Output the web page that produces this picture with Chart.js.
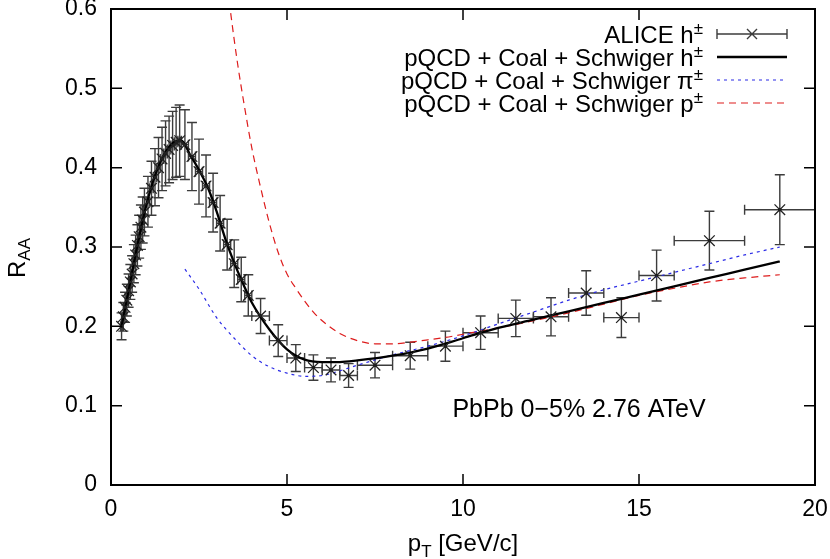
<!DOCTYPE html>
<html><head><meta charset="utf-8">
<script src="https://cdn.jsdelivr.net/npm/chart.js@4/dist/chart.umd.min.js"></script>
<style>html,body{margin:0;padding:0;background:#fff}#wrap{width:830px;height:559px}</style>
</head><body><div id="wrap"><canvas id="c" width="830" height="559"></canvas></div>
<script>
// ---------- data ----------
const aliceX = [0.3,0.35,0.4,0.45,0.5,0.55,0.6,0.65,0.7,0.75,0.8,0.85,0.9,0.95,
  1.05,1.15,1.25,1.35,1.45,1.55,1.65,1.75,1.85,1.95,
  2.1,2.3,2.5,2.7,2.9,3.1,3.3,3.5,3.7,3.9,
  4.25,4.75,5.25,5.75,6.25,6.75,
  7.5,8.5,9.5,10.5,11.5,12.5,13.5,14.5,15.5,17,19];
const aliceY = [0.200,0.212,0.224,0.233,0.245,0.256,0.266,0.279,0.290,0.302,0.313,0.325,0.334,0.344,
  0.357,0.374,0.388,0.400,0.411,0.418,0.423,0.428,0.432,0.434,
  0.429,0.414,0.395,0.377,0.356,0.330,0.303,0.279,0.259,0.239,
  0.213,0.182,0.160,0.148,0.145,0.138,
  0.151,0.163,0.175,0.192,0.210,0.212,0.242,0.211,0.264,0.308,0.347];
const aliceErrY = [0.017,0.018,0.019,0.020,0.021,0.022,0.023,0.024,0.025,0.026,0.027,0.028,0.029,0.030,
  0.032,0.034,0.036,0.038,0.040,0.041,0.042,0.043,0.044,0.045,
  0.044,0.043,0.041,0.039,0.037,0.035,0.032,0.030,0.028,0.026,
  0.022,0.020,0.017,0.016,0.015,0.015,
  0.016,0.017,0.019,0.021,0.023,0.024,0.028,0.025,0.032,0.037,0.044];
const aliceErrX = [0.025,0.025,0.025,0.025,0.025,0.025,0.025,0.025,0.025,0.025,0.025,0.025,0.025,0.025,
  0.05,0.05,0.05,0.05,0.05,0.05,0.05,0.05,0.05,0.05,
  0.1,0.1,0.1,0.1,0.1,0.1,0.1,0.1,0.1,0.1,
  0.25,0.25,0.25,0.25,0.25,0.25,
  0.5,0.5,0.5,0.5,0.5,0.5,0.5,0.5,0.5,1,1];

const hadronX = [0.3,0.5,0.75,1.0,1.25,1.5,1.75,2.0,2.25,2.5,2.75,3.0,3.25,3.5,3.75,4.0,4.5,5.0,5.5,6.0,6.5,7.0,8,9,10,11,12,13,14,15,16,17,18,19];
const hadronY = [0.200,0.245,0.302,0.352,0.390,0.416,0.431,0.434,0.416,0.397,0.375,0.345,0.310,0.280,0.254,0.230,0.196,0.171,0.158,0.155,0.155,0.157,0.163,0.172,0.185,0.198,0.2085,0.219,0.2295,0.240,0.2505,0.261,0.2715,0.282];

const pionX = [2.1,2.5,3.0,3.5,4.0,4.5,5.0,5.5,6.0,6.5,7.0,8,9,10,11,12,13,14,15,16,17,18,19];
const pionY = [0.272,0.247,0.211,0.185,0.163,0.149,0.141,0.137,0.138,0.144,0.151,0.164,0.175,0.188,0.203,0.218,0.233,0.246,0.257,0.268,0.279,0.290,0.300];

const protonX = [3.2,3.4,3.6,3.8,4.0,4.25,4.5,4.75,5.0,5.25,5.5,5.75,6.0,6.5,7.0,7.5,8,8.5,9,9.5,10,11,12,13,14,15,16,17,18,19];
const protonY = [0.67,0.595,0.53,0.475,0.425,0.375,0.33,0.293,0.266,0.248,0.232,0.218,0.207,0.191,0.182,0.178,0.178,0.180,0.183,0.186,0.190,0.198,0.207,0.217,0.228,0.239,0.248,0.256,0.261,0.265];

const xTickValues = [0,5,10,15,20];
const yTickValues = [0,0.1,0.2,0.3,0.4,0.5,0.6];
const legendLabels = [
  ["ALICE h", "\u00B1"],
  ["pQCD + Coal + Schwiger h", "\u00B1"],
  ["pQCD + Coal + Schwiger \u03C0", "\u00B1"],
  ["pQCD + Coal + Schwiger p", "\u00B1"]
];
const annotationText = "PbPb 0\u22125% 2.76 ATeV";
const xTitle = ["p", "T", " [GeV/c]"];
const yTitle = ["R", "AA"];

// ---------- styling ----------
const FONT = "'Liberation Sans', Arial, Helvetica, sans-serif";
const FS = 24, SUBFS = 17, TICKFS = 23, ANNFS = 25;
const ERR_COLOR = '#3c3c3c';
const BLUE = '#2a2ae6', RED = '#dd1c1c';

const zip = (xs, ys) => xs.map((x, i) => ({x, y: ys[i]}));

function richWidth(ctx, parts) {
  let w = 0;
  parts.forEach((p, i) => { ctx.font = (i % 2 ? SUBFS : FS) + 'px ' + FONT; w += ctx.measureText(p).width; });
  return w;
}

const framePlugin = {
  id: 'frame',
  beforeDatasetsDraw(chart) {
    const ctx = chart.ctx, xs = chart.scales.x, ys = chart.scales.y;
    ctx.save();
    ctx.strokeStyle = ERR_COLOR; ctx.lineWidth = 1.4;
    const ca = chart.chartArea;
    ctx.beginPath(); ctx.rect(ca.left, ca.top, ca.right - ca.left, ca.bottom - ca.top); ctx.clip();
    const cap = 5;
    aliceX.forEach((x, i) => {
      const px = xs.getPixelForValue(x), py = ys.getPixelForValue(aliceY[i]);
      const y1 = ys.getPixelForValue(aliceY[i] - aliceErrY[i]), y2 = ys.getPixelForValue(aliceY[i] + aliceErrY[i]);
      const x1 = xs.getPixelForValue(x - aliceErrX[i]), x2 = xs.getPixelForValue(x + aliceErrX[i]);
      ctx.beginPath();
      ctx.moveTo(px, y1); ctx.lineTo(px, y2);
      ctx.moveTo(px - cap, y1); ctx.lineTo(px + cap, y1);
      ctx.moveTo(px - cap, y2); ctx.lineTo(px + cap, y2);
      ctx.moveTo(x1, py); ctx.lineTo(x2, py);
      ctx.moveTo(x1, py - cap); ctx.lineTo(x1, py + cap);
      ctx.moveTo(x2, py - cap); ctx.lineTo(x2, py + cap);
      ctx.stroke();
      ctx.fillStyle = '#000';
      ctx.fillRect(px - 1.5, py - 1.5, 3, 3);
    });
    ctx.restore();
  },
  afterDraw(chart) {
    const ctx = chart.ctx, xs = chart.scales.x, ys = chart.scales.y, ca = chart.chartArea;
    ctx.save();
    ctx.strokeStyle = '#000'; ctx.lineWidth = 2;
    ctx.strokeRect(ca.left, ca.top, ca.right - ca.left, ca.bottom - ca.top);
    const tl = 11;
    ctx.lineWidth = 1.5;
    ctx.beginPath();
    xs.ticks.forEach(t => {
      const px = xs.getPixelForValue(t.value);
      ctx.moveTo(px, ca.bottom); ctx.lineTo(px, ca.bottom - tl);
      ctx.moveTo(px, ca.top); ctx.lineTo(px, ca.top + tl);
    });
    ys.ticks.forEach(t => {
      const py = ys.getPixelForValue(t.value);
      ctx.moveTo(ca.left, py); ctx.lineTo(ca.left + tl, py);
      ctx.moveTo(ca.right, py); ctx.lineTo(ca.right - tl, py);
    });
    ctx.stroke();

    // legend
    ctx.fillStyle = '#000'; ctx.textBaseline = 'alphabetic'; ctx.textAlign = 'left';
    const textRight = 703, sx1 = 717, sx2 = 787, rows = [43, 66, 89, 112];
    legendLabels.forEach((parts, i) => {
      const w = richWidth(ctx, parts);
      let x = textRight - w;
      ctx.font = FS + 'px ' + FONT; ctx.fillText(parts[0], x, rows[i]);
      x += ctx.measureText(parts[0]).width;
      ctx.font = SUBFS + 'px ' + FONT; ctx.fillText(parts[1], x, rows[i] - 9);
      const ly = rows[i] - 9;
      ctx.beginPath();
      if (i === 0) {
        ctx.strokeStyle = ERR_COLOR; ctx.lineWidth = 1.4; ctx.setLineDash([]);
        ctx.moveTo(sx1, ly); ctx.lineTo(sx2, ly);
        ctx.moveTo(sx1, ly - 5); ctx.lineTo(sx1, ly + 5);
        ctx.moveTo(sx2, ly - 5); ctx.lineTo(sx2, ly + 5);
        const cx = (sx1 + sx2) / 2;
        ctx.moveTo(cx - 5, ly - 5); ctx.lineTo(cx + 5, ly + 5);
        ctx.moveTo(cx - 5, ly + 5); ctx.lineTo(cx + 5, ly - 5);
      } else {
        const ds = chart.data.datasets[i];
        ctx.strokeStyle = ds.borderColor; ctx.lineWidth = ds.borderWidth;
        ctx.setLineDash(ds.borderDash || []);
        ctx.moveTo(sx1, ly); ctx.lineTo(sx2, ly);
      }
      ctx.stroke();
      ctx.setLineDash([]);
    });

    // annotation
    ctx.font = ANNFS + 'px ' + FONT; ctx.textAlign = 'center';
    ctx.fillText(annotationText, 579, 417);

    // x title
    ctx.textAlign = 'left';
    const xw = richWidth(ctx, xTitle);
    let x = 463 - xw / 2;
    ctx.font = FS + 'px ' + FONT; ctx.fillText(xTitle[0], x, 551); x += ctx.measureText(xTitle[0]).width;
    ctx.font = SUBFS + 'px ' + FONT; ctx.fillText(xTitle[1], x, 557); x += ctx.measureText(xTitle[1]).width;
    ctx.font = FS + 'px ' + FONT; ctx.fillText(xTitle[2], x, 551);

    // y title
    ctx.translate(25, 258); ctx.rotate(-Math.PI / 2);
    const yw = richWidth(ctx, yTitle);
    let y0 = -yw / 2;
    ctx.font = FS + 'px ' + FONT; ctx.fillText(yTitle[0], y0, 0); y0 += ctx.measureText(yTitle[0]).width;
    ctx.font = SUBFS + 'px ' + FONT; ctx.fillText(yTitle[1], y0, 5);
    ctx.restore();
  }
};

new Chart(document.getElementById('c'), {
  type: 'scatter',
  data: {
    datasets: [
      { label: 'ALICE h±', data: zip(aliceX, aliceY), showLine: false,
        pointStyle: 'crossRot', pointRadius: 7.5, pointBorderWidth: 1.3,
        borderColor: '#222', backgroundColor: '#222' },
      { label: 'pQCD + Coal + Schwiger h±', data: zip(hadronX, hadronY), showLine: true,
        pointRadius: 0, borderColor: '#000', borderWidth: 2.3, cubicInterpolationMode: 'monotone' },
      { label: 'pQCD + Coal + Schwiger π±', data: zip(pionX, pionY), showLine: true,
        pointRadius: 0, borderColor: BLUE, borderWidth: 1.2, borderDash: [3, 4], cubicInterpolationMode: 'monotone' },
      { label: 'pQCD + Coal + Schwiger p±', data: zip(protonX, protonY), showLine: true,
        pointRadius: 0, borderColor: RED, borderWidth: 1.2, borderDash: [7, 5], cubicInterpolationMode: 'monotone' }
    ]
  },
  options: {
    responsive: false, animation: false, devicePixelRatio: 1,
    layout: { padding: { top: 9, right: 15, left: 0, bottom: 0 } },
    plugins: { legend: { display: false }, tooltip: { enabled: false } },
    scales: {
      x: {
        type: 'linear', min: 0, max: 20,
        afterBuildTicks: s => { s.ticks = xTickValues.map(v => ({ value: v })); },
        afterFit: s => { s.height = 74; s.paddingLeft = 0; s.paddingRight = 0; },
        grid: { display: false, drawTicks: false }, border: { display: false },
        ticks: { color: '#000', padding: 13, font: { family: FONT, size: TICKFS, lineHeight: 1 }, maxRotation: 0 }
      },
      y: {
        type: 'linear', min: 0, max: 0.6,
        afterBuildTicks: s => { s.ticks = yTickValues.map(v => ({ value: v })); },
        afterFit: s => { s.width = 111; s.paddingTop = 0; s.paddingBottom = 0; },
        grid: { display: false, drawTicks: false }, border: { display: false },
        ticks: { color: '#000', padding: 14, font: { family: FONT, size: TICKFS, lineHeight: 0.7 },
          callback: v => String(Math.round(v * 10) / 10) }
      }
    }
  },
  plugins: [framePlugin]
});
</script></body></html>
